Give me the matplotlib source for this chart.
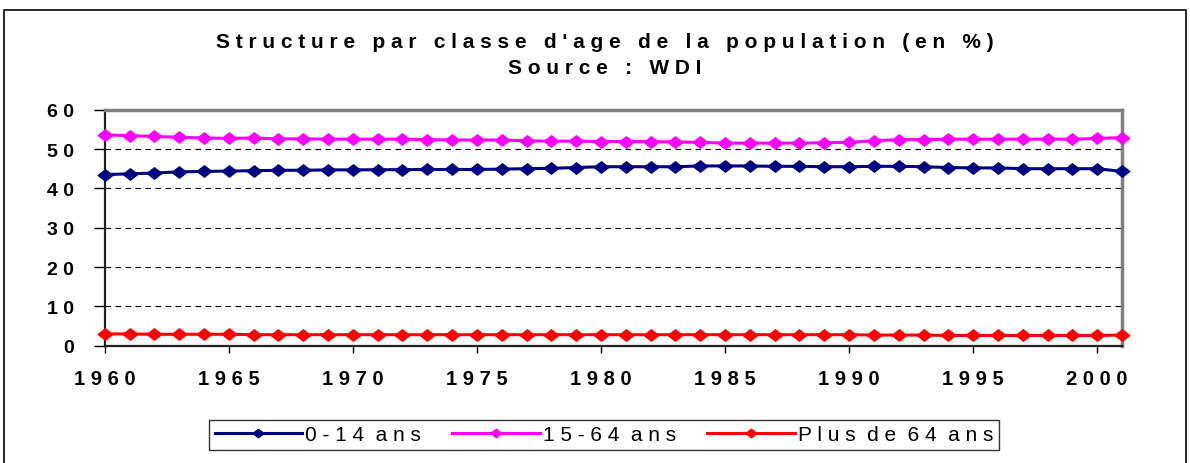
import numpy as np
import matplotlib.pyplot as plt
from matplotlib.path import Path
from matplotlib.patches import Rectangle

years = list(range(1960, 2002))

# Population shares by age class (%)
age_0_14 = [43.5, 43.7, 43.9, 44.2, 44.3, 44.4, 44.5, 44.6, 44.6, 44.7,
            44.7, 44.75, 44.75, 44.8, 44.8, 44.8, 44.9, 45.0, 45.1, 45.3,
            45.5, 45.5, 45.5, 45.5, 45.7, 45.7, 45.7, 45.6, 45.6, 45.5,
            45.5, 45.6, 45.6, 45.5, 45.3, 45.2, 45.2, 45.0, 45.0, 45.0,
            45.0, 44.3]
age_15_64 = [53.6, 53.4, 53.2, 53.0, 52.8, 52.7, 52.8, 52.6, 52.6, 52.5,
             52.5, 52.5, 52.5, 52.4, 52.3, 52.3, 52.3, 52.1, 52.0, 52.0,
             51.9, 51.9, 51.9, 51.8, 51.7, 51.5, 51.5, 51.5, 51.5, 51.6,
             51.7, 52.1, 52.4, 52.4, 52.5, 52.5, 52.5, 52.5, 52.5, 52.5,
             52.7, 52.9]
age_65_plus = [3.0, 3.0, 2.9, 2.9, 2.9, 2.9, 2.8, 2.8, 2.8, 2.8,
               2.8, 2.8, 2.8, 2.8, 2.8, 2.8, 2.8, 2.8, 2.8, 2.8,
               2.8, 2.8, 2.8, 2.8, 2.8, 2.8, 2.8, 2.8, 2.8, 2.8,
               2.8, 2.7, 2.7, 2.7, 2.6, 2.6, 2.6, 2.6, 2.6, 2.6,
               2.6, 2.7]
labels = ['0-14 ans', '15-64 ans', 'Plus de 64 ans']
colors = ['#000080', '#ff00ff', '#ff0000']


def spaced(s):
    return ' '.join(s)


# flattened diamond marker
diamond = Path([(-1, 0), (0, 0.78), (1, 0), (0, -0.78), (-1, 0)],
               [Path.MOVETO, Path.LINETO, Path.LINETO, Path.LINETO, Path.CLOSEPOLY])

plt.rcParams['font.family'] = ['Liberation Sans', 'DejaVu Sans']

fig = plt.figure(figsize=(11.9, 4.64), dpi=100)
ax = fig.add_axes([104.7 / 1190, 1 - 346.7 / 464, (1122 - 104.7) / 1190, 236 / 464])

for vals, lab, col in zip([age_0_14, age_15_64, age_65_plus], labels, colors):
    ax.plot(years, vals, color=col, lw=2.2, marker=diamond, markersize=10.5,
            label=spaced(lab).replace('   ', '  '), clip_on=False, zorder=3)

ax.set_xlim(1960, 2001)
ax.set_ylim(0, 60)
ax.set_yticks(range(0, 61, 10))
ax.set_yticklabels([spaced(str(v)) for v in range(0, 61, 10)])
ax.set_xticks(range(1960, 2001, 5))
ax.set_xticklabels([spaced(str(v)) for v in range(1960, 2001, 5)])
ax.tick_params(axis='y', direction='out', length=8, width=1, pad=14,
               labelsize=14)
ax.tick_params(axis='x', direction='out', length=5, width=1, pad=12,
               labelsize=14.5)
for t in ax.get_xticklabels() + ax.get_yticklabels():
    t.set_fontweight('bold')

ax.grid(axis='y', color='black', linestyle=(0, (5, 4)), lw=0.8)
ax.set_axisbelow(True)
for side in ['top', 'right']:
    ax.spines[side].set_color('#808080')
    ax.spines[side].set_linewidth(2.5)
for side in ['left', 'bottom']:
    ax.spines[side].set_color('#202020')
    ax.spines[side].set_linewidth(1.6)

fig.text(605 / 1190, 1 - 43 / 464,
         spaced("Structure par classe d'age de la population (en %)"),
         ha='center', va='center', fontsize=15, fontweight='bold')
fig.text(605 / 1190, 1 - 68 / 464, spaced('Source : WDI'),
         ha='center', va='center', fontsize=15, fontweight='bold')

leg = fig.legend(loc='center', bbox_to_anchor=(604 / 1190, 1 - 436 / 464),
                 ncol=3, frameon=True, fancybox=False, edgecolor='black',
                 handlelength=4.2, handletextpad=0.15,
                 columnspacing=1.5, borderpad=0.25, markerscale=0.75,
                 prop={'family': ['Liberation Sans Narrow', 'Liberation Sans'],
                       'size': 15})
leg.get_frame().set_linewidth(1)

# chart area border
fig.patches.append(Rectangle((4 / 1190, -0.05), 1182 / 1190, 1.05 - 11 / 464,
                             transform=fig.transFigure, fill=False,
                             edgecolor='black', lw=1.2))

fig.savefig('out.png', dpi=100)
